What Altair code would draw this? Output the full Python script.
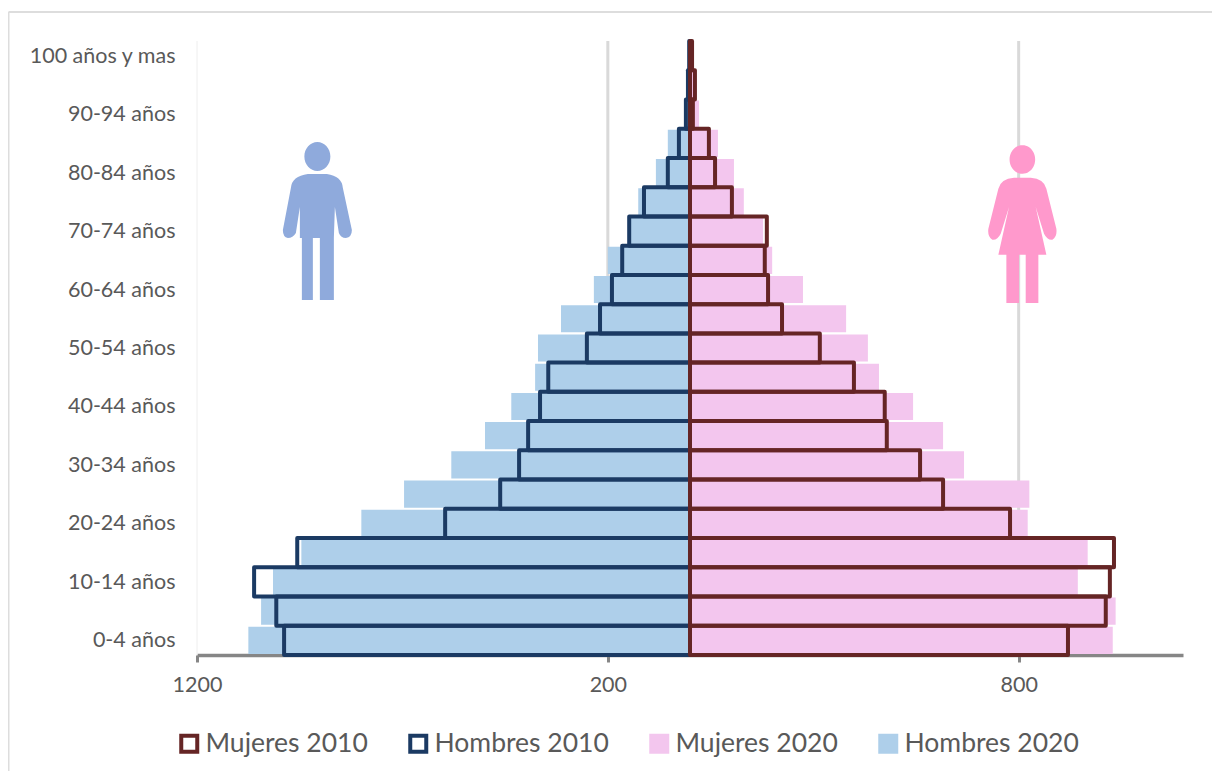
import altair as alt
import pandas as pd

ages = ["100 años y mas", "95-99 años", "90-94 años", "85-89 años", "80-84 años", "75-79 años",
        "70-74 años", "65-69 años", "60-64 años", "55-59 años", "50-54 años", "45-49 años",
        "40-44 años", "35-39 años", "30-34 años", "25-29 años", "20-24 años", "15-19 años",
        "10-14 años", "5-9 años", "0-4 años"]
tick_ages = ages[0::2]

hombres_2020 = [-2, -5, -10, -54, -83, -126, -151, -200, -234, -314, -370, -377, -435, -499, -581, -696, -800, -946, -1015, -1044, -1075]
hombres_2010 = [-2, -5, -10, -27, -54, -112, -148, -165, -190, -219, -251, -345, -365, -394, -416, -462, -596, -956, -1061, -1007, -988]
mujeres_2020 = [5, 12, 22, 68, 107, 131, 178, 200, 275, 380, 433, 460, 543, 616, 667, 826, 822, 968, 944, 1036, 1029]
mujeres_2010 = [5, 12, 7, 46, 61, 102, 187, 182, 190, 224, 316, 399, 474, 479, 560, 616, 779, 1032, 1022, 1012, 920]

series_names = ["Mujeres 2010", "Hombres 2010", "Mujeres 2020", "Hombres 2020"]
fill_colors = ["#ffffff", "#ffffff", "#f3c6ee", "#aecfea"]
stroke_colors = ["#652525", "#1b3a63", "#f3c6ee", "#aecfea"]
legend_sizes = [256, 256, 156, 156]
legend_strokes = [4, 4, 0, 0]

FONT = "Lato"
TEXT = "#595959"
AXIS = "#868686"
GRID = "#d9d9d9"
tick_values = [-1200, -200, 800]
domain_x = [-1200, 1200]


def icon_path(parts, cx, cy, half):
    out = []
    for cmd in parts:
        if isinstance(cmd, str):
            out.append(cmd)
        else:
            out.append(f"{(cmd[0]-cx)/half:.4f} {(cmd[1]-cy)/half:.4f}")
    return " ".join(out)


man = ["M", (302, 300), "L", (302, 238), (300, 238), (300, 207), (296, 233), "Q", (293, 238), (288, 238),
       "Q", (283, 237), (283, 230), "L", (291, 188), "Q", (292, 176), (308, 174), "L", (327, 174),
       "Q", (342, 176), (343, 188), "L", (352, 230), "Q", (352, 237), (346, 238), "Q", (341, 238), (339, 233),
       "L", (335, 207), (334, 238), (334, 300), (320, 300), (320, 238), (313, 238), (313, 300), "Z",
       "M", (317.5, 142), f"A {13/80:.4f} {14.5/80:.4f} 0 1 1", (317.5, 171),
       f"A {13/80:.4f} {14.5/80:.4f} 0 1 1", (317.5, 142), "Z"]
woman_z = ["M", (142, 548), "L", (142, 403), (118, 403), (150, 260), (125, 340), "Q", (115, 360), (100, 358),
           "Q", (85, 350), (88, 325), "L", (118, 205), "Q", (125, 175), (165, 172), "L", (215, 172),
           "Q", (255, 175), (262, 205), "L", (292, 325), "Q", (295, 350), (280, 358), "Q", (265, 360), (255, 340),
           "L", (230, 260), (262, 403), (238, 403), (238, 548), (200, 548), (200, 403), (180, 403), (180, 548), "Z",
           "M", (190, 75), f"A {37.5/240:.4f} {42.5/240:.4f} 0 1 1", (190, 160),
           f"A {37.5/240:.4f} {42.5/240:.4f} 0 1 1", (190, 75), "Z"]
MAN_PATH = icon_path(man, 317.5, 221, 80)
WOMAN_PATH = icon_path(woman_z, 190, 311, 240)

bars = pd.DataFrame({
    "age": ages * 4,
    "value": hombres_2020 + mujeres_2020 + hombres_2010 + mujeres_2010,
    "series": ["Hombres 2020"] * 21 + ["Mujeres 2020"] * 21 + ["Hombres 2010"] * 21 + ["Mujeres 2010"] * 21,
})

x_scale = alt.Scale(domain=domain_x, nice=False, zero=False)
y_scale = alt.Scale(domain=ages, paddingInner=0, paddingOuter=0)
x_axis = alt.Axis(values=tick_values, labelExpr="abs(datum.value)", title=None, grid=False,
                  domainColor=AXIS, domainWidth=3.5, tickColor=AXIS, tickWidth=3, tickSize=7,
                  labelFont=FONT, labelFontSize=21.5, labelColor=TEXT, labelPadding=12, labelFlush=False)
y_axis = alt.Axis(values=tick_ages, title=None, domain=False, ticks=False, grid=False, labelLimit=300,
                  labelFont=FONT, labelFontSize=21.5, labelColor=TEXT, labelPadding=22, labelOffset=1)
X = alt.X("value:Q", scale=x_scale, axis=x_axis)
Y = alt.Y("age:N", scale=y_scale, sort=ages, axis=y_axis)


def bar_layer(name, **mark):
    return alt.Chart(bars[bars.series == name]).mark_bar(**mark).encode(
        x=X, x2=alt.datum(0), y=Y)


thin_grid = alt.Chart(pd.DataFrame({"value": tick_values[:1]})).mark_rule(color="#eeeeee", strokeWidth=1).encode(
    x=alt.X("value:Q", scale=x_scale, axis=x_axis))
grid = alt.Chart(pd.DataFrame({"value": tick_values[1:]})).mark_rule(color=GRID, strokeWidth=3).encode(
    x=alt.X("value:Q", scale=x_scale, axis=x_axis))

legend_src = pd.DataFrame({"series": series_names, "value": [-100] * 4, "age": ["30-34 años"] * 4})
leg = alt.Legend(title=None, orient="none", legendX=-21, legendY=689, direction="horizontal", columns=4,
                 symbolType="square", labelFont=FONT, labelFontSize=26.5, labelColor=TEXT, labelLimit=400,
                 columnPadding=34, labelOffset=3, symbolOpacity=1)
legend_layer = alt.Chart(legend_src).mark_point(filled=True, shape="square").encode(
    x=X, y=Y,
    fill=alt.Fill("series:N", scale=alt.Scale(domain=series_names, range=fill_colors), legend=leg),
    stroke=alt.Stroke("series:N", scale=alt.Scale(domain=series_names, range=stroke_colors), legend=leg),
    size=alt.Size("series:O", scale=alt.Scale(domain=series_names, range=legend_sizes), legend=leg),
    strokeWidth=alt.StrokeWidth("series:O", scale=alt.Scale(domain=series_names, range=legend_strokes), legend=leg),
)

man_layer = alt.Chart(pd.DataFrame({"value": [-907]})).mark_point(
    shape=MAN_PATH, filled=True, color="#8faadc", opacity=1, size=25600).encode(
    x=alt.X("value:Q", scale=x_scale, axis=x_axis), y=alt.value(180))
woman_layer = alt.Chart(pd.DataFrame({"value": [809]})).mark_point(
    shape=WOMAN_PATH, filled=True, color="#ff99cc", opacity=1, size=25600).encode(
    x=alt.X("value:Q", scale=x_scale, axis=x_axis), y=alt.value(183))

border = alt.Chart(pd.DataFrame({"a": [0]})).mark_rule(color="#dddddd", strokeWidth=2).encode(
    x=alt.value(-188.5), y=alt.value(-29), y2=alt.value(730))
border_top = alt.Chart(pd.DataFrame({"a": [0]})).mark_rule(color="#dddddd", strokeWidth=2).encode(
    x=alt.value(-188.5), x2=alt.value(1015), y=alt.value(-29))

chart = alt.layer(
    border, border_top, thin_grid, grid, legend_layer,
    bar_layer("Hombres 2020", color="#aecfea", height={"band": 0.93}),
    bar_layer("Mujeres 2020", color="#f3c6ee", height={"band": 0.93}),
    bar_layer("Hombres 2010", fill="transparent", stroke="#1b3a63", strokeWidth=4, strokeJoin="round"),
    bar_layer("Mujeres 2010", fill="transparent", stroke="#652525", strokeWidth=4, strokeJoin="round"),
    man_layer, woman_layer,
).properties(
    width=1204, height=763,
    autosize=alt.AutoSizeParams(type="none", contains="padding"),
    padding={"left": 189, "top": 33, "right": 29, "bottom": 116},
    background="#ffffff",
).configure_view(stroke=None)

chart.save("out.html", embed_options={"renderer": "svg", "actions": False})
